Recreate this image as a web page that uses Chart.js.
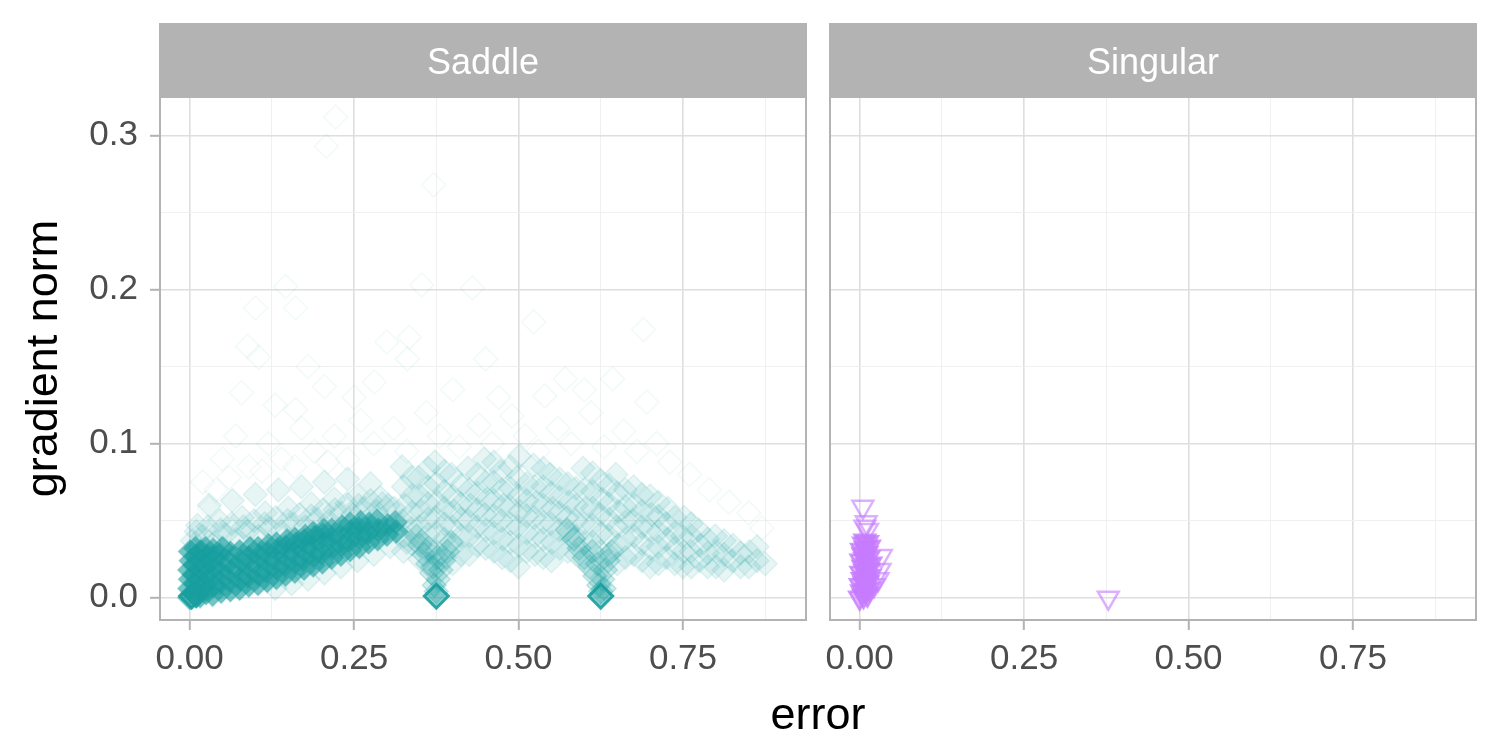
<!DOCTYPE html>
<html>
<head>
<meta charset="utf-8">
<script src="https://cdn.jsdelivr.net/npm/chart.js@4"></script>
<style>
  html, body { margin: 0; padding: 0; background: #fff; }
  #wrap { position: relative; width: 1500px; height: 750px; overflow: hidden; }
  #left { position: absolute; left: 0; top: 0; }
  #right { position: absolute; left: 815px; top: 0; }
  #xtitle {
    position: absolute; left: 618px; width: 400px; top: 691px;
    text-align: center; font: 45px "Liberation Sans", Arial, sans-serif;
    line-height: 45px; color: #000;
  }
</style>
</head>
<body>
<div id="wrap">
  <canvas id="left" width="821" height="750"></canvas>
  <canvas id="right" width="685" height="750"></canvas>
  <div id="xtitle">error</div>
</div>
<script>
// panels and axis settings
const panelNames = ["Saddle", "Singular"];
const xRange = [-0.045, 0.937];
const yRange = [-0.0145, 0.325];
const xTicks = [0, 0.125, 0.25, 0.375, 0.5, 0.625, 0.75, 0.875];
const yTicks = [0, 0.05, 0.1, 0.15, 0.2, 0.25, 0.3];

// Saddle: dense core near the origin (error, gradient norm)
const saddleCore = [
  [0.000,0.000],[0.000,0.006],[0.001,0.012],[0.000,0.018],[0.002,0.024],[0.001,0.030],
  [0.008,0.003],[0.009,0.009],[0.007,0.015],[0.008,0.021],[0.010,0.027],[0.009,0.032],
  [0.016,0.001],[0.017,0.006],[0.015,0.012],[0.018,0.018],[0.016,0.024],[0.017,0.030],
  [0.025,0.003],[0.024,0.009],[0.026,0.015],[0.025,0.021],[0.027,0.027],[0.024,0.032],
  [0.035,0.002],[0.036,0.008],[0.034,0.014],[0.037,0.020],[0.035,0.026],[0.036,0.031],
  [0.048,0.004],[0.047,0.010],[0.049,0.016],[0.048,0.022],[0.046,0.028],[0.050,0.032],
  [0.062,0.005],[0.061,0.011],[0.063,0.017],[0.060,0.023],[0.062,0.029],
  [0.076,0.006],[0.077,0.012],[0.075,0.018],[0.078,0.024],[0.076,0.030],
  [0.090,0.008],[0.089,0.014],[0.091,0.020],[0.090,0.026],[0.092,0.032],
  [0.104,0.009],[0.105,0.015],[0.103,0.021],[0.106,0.027],[0.104,0.032],
  [0.118,0.011],[0.117,0.017],[0.119,0.023],[0.118,0.029],[0.120,0.034],
  [0.132,0.013],[0.133,0.019],[0.131,0.025],[0.134,0.031],[0.132,0.035],
  [0.146,0.015],[0.145,0.021],[0.147,0.027],[0.146,0.033],[0.148,0.037],
  [0.160,0.017],[0.161,0.023],[0.159,0.029],[0.162,0.035],[0.160,0.038],
  [0.174,0.019],[0.173,0.025],[0.175,0.031],[0.174,0.037],[0.176,0.040],
  [0.188,0.021],[0.189,0.027],[0.187,0.033],[0.190,0.039],[0.188,0.042],
  [0.202,0.023],[0.201,0.029],[0.203,0.035],[0.202,0.041],[0.204,0.044],
  [0.216,0.026],[0.217,0.032],[0.215,0.038],[0.216,0.044],
  [0.230,0.028],[0.231,0.034],[0.229,0.040],[0.232,0.046],
  [0.244,0.031],[0.243,0.037],[0.245,0.043],[0.244,0.048],
  [0.258,0.033],[0.259,0.039],[0.257,0.045],[0.260,0.049],
  [0.272,0.036],[0.271,0.042],[0.273,0.048],
  [0.286,0.038],[0.287,0.044],[0.285,0.050],
  [0.300,0.041],[0.301,0.047],
  [0.314,0.043],[0.313,0.049]
];

// Saddle: medium density cloud
const saddleMid = [
  [0.004,0.037],[0.020,0.040],[0.038,0.036],[0.055,0.041],[0.072,0.038],[0.088,0.043],
  [0.105,0.040],[0.122,0.045],[0.140,0.043],[0.158,0.048],[0.176,0.046],[0.194,0.051],
  [0.212,0.050],[0.230,0.055],[0.248,0.054],[0.266,0.058],[0.284,0.056],[0.302,0.060],
  [0.010,0.043],[0.028,0.046],[0.047,0.044],[0.064,0.048],[0.082,0.046],[0.098,0.050],
  [0.114,0.048],[0.131,0.052],[0.149,0.050],[0.167,0.054],[0.185,0.053],[0.203,0.057],
  [0.221,0.057],[0.239,0.061],[0.257,0.060],[0.275,0.063],[0.293,0.061],[0.311,0.058],
  [0.012,0.047],[0.045,0.050],[0.080,0.052],[0.115,0.055],[0.150,0.058],[0.185,0.061],
  [0.220,0.064],[0.255,0.066],[0.290,0.065],
  [0.030,0.060],[0.065,0.063],[0.100,0.067],[0.135,0.070],[0.170,0.072],[0.205,0.075],
  [0.240,0.077],[0.275,0.074],
  [0.130,0.006],[0.155,0.009],[0.180,0.012],[0.205,0.016],[0.230,0.020],[0.255,0.024],
  [0.280,0.028],[0.305,0.033],[0.330,0.036],
  [0.325,0.030],[0.326,0.040],[0.324,0.050],[0.327,0.060],[0.325,0.072],[0.323,0.085],
  [0.350,0.025],[0.351,0.036],[0.349,0.046],[0.352,0.056],[0.350,0.066],[0.348,0.078],
  [0.375,0.030],[0.376,0.042],[0.374,0.052],[0.377,0.062],[0.375,0.074],[0.373,0.088],
  [0.400,0.022],[0.401,0.034],[0.399,0.046],[0.402,0.056],[0.400,0.066],[0.398,0.080],
  [0.425,0.028],[0.426,0.040],[0.424,0.050],[0.427,0.060],[0.425,0.070],[0.423,0.084],
  [0.450,0.032],[0.451,0.044],[0.449,0.054],[0.452,0.064],[0.450,0.075],[0.448,0.090],
  [0.475,0.026],[0.476,0.038],[0.474,0.050],[0.477,0.060],[0.475,0.070],[0.473,0.082],
  [0.500,0.020],[0.501,0.034],[0.499,0.046],[0.502,0.056],[0.500,0.066],[0.498,0.078],[0.501,0.092],
  [0.525,0.028],[0.526,0.040],[0.524,0.052],[0.527,0.062],[0.525,0.072],[0.523,0.086],
  [0.550,0.024],[0.551,0.036],[0.549,0.048],[0.552,0.058],[0.550,0.068],[0.548,0.080],
  [0.575,0.030],[0.576,0.042],[0.574,0.052],[0.577,0.062],[0.575,0.074],
  [0.600,0.024],[0.601,0.036],[0.599,0.048],[0.602,0.058],[0.600,0.070],[0.598,0.084],
  [0.625,0.030],[0.626,0.042],[0.624,0.054],[0.627,0.064],[0.625,0.076],
  [0.650,0.022],[0.651,0.034],[0.649,0.046],[0.652,0.056],[0.650,0.068],[0.648,0.080],
  [0.675,0.028],[0.676,0.040],[0.674,0.050],[0.677,0.060],[0.675,0.072],
  [0.700,0.020],[0.701,0.032],[0.699,0.044],[0.702,0.054],[0.700,0.066],
  [0.725,0.026],[0.726,0.038],[0.724,0.048],[0.727,0.058],
  [0.750,0.020],[0.751,0.030],[0.749,0.040],[0.752,0.052],
  [0.775,0.024],[0.776,0.034],[0.774,0.044],
  [0.800,0.020],[0.801,0.030],[0.799,0.040],
  [0.825,0.024],[0.826,0.034],
  [0.850,0.020],[0.851,0.030],
  [0.875,0.022],
  [0.3375,0.035],[0.3375,0.045],[0.3375,0.055],[0.3375,0.066],[0.3375,0.078],
  [0.3625,0.030],[0.3625,0.041],[0.3625,0.051],[0.3625,0.061],[0.3625,0.072],[0.3625,0.084],
  [0.3875,0.026],[0.3875,0.038],[0.3875,0.048],[0.3875,0.058],[0.3875,0.069],[0.3875,0.082],
  [0.4125,0.028],[0.4125,0.040],[0.4125,0.051],[0.4125,0.061],[0.4125,0.073],
  [0.4375,0.034],[0.4375,0.046],[0.4375,0.057],[0.4375,0.068],[0.4375,0.080],
  [0.4625,0.030],[0.4625,0.042],[0.4625,0.053],[0.4625,0.063],[0.4625,0.075],[0.4625,0.088],
  [0.4875,0.024],[0.4875,0.036],[0.4875,0.048],[0.4875,0.059],[0.4875,0.071],[0.4875,0.085],
  [0.5125,0.030],[0.5125,0.042],[0.5125,0.053],[0.5125,0.063],[0.5125,0.074],
  [0.5375,0.026],[0.5375,0.038],[0.5375,0.049],[0.5375,0.060],[0.5375,0.072],[0.5375,0.084],
  [0.5625,0.032],[0.5625,0.044],[0.5625,0.055],[0.5625,0.065],[0.5625,0.077],
  [0.5875,0.028],[0.5875,0.040],[0.5875,0.050],[0.5875,0.060],[0.5875,0.071],
  [0.6125,0.036],[0.6125,0.047],[0.6125,0.058],[0.6125,0.069],[0.6125,0.081],
  [0.6375,0.028],[0.6375,0.040],[0.6375,0.051],[0.6375,0.061],[0.6375,0.073],
  [0.6625,0.026],[0.6625,0.038],[0.6625,0.049],[0.6625,0.059],[0.6625,0.070],
  [0.6875,0.024],[0.6875,0.035],[0.6875,0.046],[0.6875,0.056],[0.6875,0.067],
  [0.7125,0.022],[0.7125,0.033],[0.7125,0.043],[0.7125,0.053],[0.7125,0.062],
  [0.7375,0.022],[0.7375,0.032],[0.7375,0.042],[0.7375,0.052],
  [0.7625,0.020],[0.7625,0.030],[0.7625,0.040],[0.7625,0.048],
  [0.7875,0.020],[0.7875,0.029],[0.7875,0.038],
  [0.8125,0.018],[0.8125,0.028],[0.8125,0.037],
  [0.8375,0.020],[0.8375,0.029],
  [0.8625,0.024],[0.8625,0.033]
];

// Saddle: points running down into the two other minima
const saddleFunnels = [
  [0.375,0.004],[0.372,0.008],[0.378,0.012],[0.368,0.016],[0.382,0.018],[0.362,0.022],
  [0.386,0.024],[0.356,0.028],[0.392,0.030],[0.350,0.034],[0.345,0.040],[0.398,0.036],
  [0.370,0.020],[0.376,0.026],[0.364,0.032],
  [0.625,0.004],[0.622,0.008],[0.628,0.012],[0.616,0.014],[0.632,0.018],[0.608,0.020],
  [0.636,0.024],[0.600,0.026],[0.592,0.032],[0.584,0.038],[0.574,0.044],
  [0.642,0.030],[0.620,0.022],[0.612,0.030],[0.630,0.006]
];

// Saddle: faint scattered points
const saddleHalo = [
  [0.222,0.312],[0.208,0.293],[0.371,0.268],[0.100,0.188],[0.161,0.188],[0.146,0.202],
  [0.353,0.203],[0.430,0.201],[0.523,0.179],[0.690,0.174],[0.088,0.163],[0.105,0.156],
  [0.300,0.166],[0.334,0.169],[0.331,0.155],[0.205,0.137],[0.161,0.122],[0.079,0.133],
  [0.281,0.140],[0.571,0.142],[0.643,0.142],[0.695,0.127],[0.540,0.131],
  [0.050,0.090],[0.070,0.105],[0.090,0.085],[0.120,0.100],[0.140,0.090],[0.170,0.110],
  [0.190,0.095],[0.220,0.105],[0.240,0.090],[0.260,0.115],[0.280,0.100],[0.310,0.110],
  [0.330,0.095],[0.360,0.120],[0.380,0.105],[0.410,0.098],[0.440,0.112],[0.460,0.100],
  [0.490,0.118],[0.510,0.105],[0.530,0.095],[0.560,0.110],[0.580,0.100],[0.610,0.120],
  [0.630,0.098],[0.660,0.108],[0.680,0.095],[0.710,0.100],[0.730,0.088],[0.760,0.080],
  [0.790,0.070],[0.820,0.062],[0.850,0.055],[0.870,0.045],[0.020,0.075],[0.040,0.070],
  [0.030,0.058],[0.060,0.078],[0.110,0.082],[0.160,0.085],[0.210,0.088],[0.130,0.125],
  [0.250,0.130],[0.400,0.135],[0.470,0.130],[0.600,0.135],[0.180,0.150],[0.450,0.155]
];

// Saddle: the three minima
const saddleMinima = [[0.003,0.001],[0.010,0.002],[0.375,0.001],[0.625,0.001]];

// Singular: dense column and scattered points
const singularCore = [
  [0.000,0.000],[0.006,0.001],[0.012,0.002],[0.003,0.004],[0.009,0.005],[0.015,0.006],
  [0.001,0.008],[0.007,0.009],[0.013,0.010],[0.004,0.012],[0.010,0.013],[0.016,0.014],
  [0.002,0.016],[0.008,0.017],[0.014,0.018],[0.005,0.020],[0.011,0.021],[0.017,0.022],
  [0.002,0.024],[0.008,0.025],[0.014,0.026],[0.005,0.028],[0.011,0.029],[0.003,0.031],
  [0.009,0.032],[0.015,0.033],[0.006,0.035],[0.012,0.036],[0.008,0.037]
];
const singularSparse = [
  [0.033,0.027],[0.031,0.018],[0.028,0.012],[0.022,0.008],[0.008,0.046],[0.012,0.044],
  [0.010,0.049],[0.005,0.059],[0.378,0.000]
];

const teal = "24, 158, 158";
const purple = "199, 124, 255";
Chart.defaults.font.family = "'Liberation Sans', Arial, sans-serif";

const toXY = (arr) => arr.map(([x, y]) => ({ x, y }));
const isMajor = (v, per) => Math.abs(v * per - Math.round(v * per)) < 1e-6;

// strip on top + grey border round the panel
const panelFrame = {
  id: "panelFrame",
  afterDatasetsDraw(chart, args, opts) {
    const { ctx, chartArea: a } = chart;
    ctx.save();
    ctx.strokeStyle = "#B3B3B3";
    ctx.lineWidth = 2;
    ctx.strokeRect(a.left, a.top, a.right - a.left, a.bottom - a.top);
    ctx.fillStyle = "#B3B3B3";
    ctx.fillRect(a.left - 1, 23, a.right - a.left + 2, a.top - 23 - 1);
    ctx.fillStyle = "#FFFFFF";
    ctx.font = "36px 'Liberation Sans', Arial, sans-serif";
    ctx.textAlign = "center";
    ctx.textBaseline = "alphabetic";
    ctx.fillText(opts.label, (a.left + a.right) / 2, 74);
    ctx.restore();
  }
};

function gridStyle(per) {
  return {
    color: (c) => (isMajor(c.tick.value, per) ? "#DEDEDE" : "#EEEEEE"),
    lineWidth: (c) => (isMajor(c.tick.value, per) ? 1.6 : 0.9),
    tickLength: 10,
    tickWidth: 2,
    tickColor: (c) => (isMajor(c.tick.value, per) ? "#B3B3B3" : "rgba(0,0,0,0)")
  };
}

function xScale() {
  return {
    type: "linear",
    min: xRange[0],
    max: xRange[1],
    bounds: "data",
    afterBuildTicks: (s) => { s.ticks = xTicks.map((v) => ({ value: v })); },
    ticks: {
      autoSkip: false,
      maxRotation: 0,
      color: "#4D4D4D",
      font: { size: 35 },
      padding: 8,
      callback: (v) => (isMajor(v, 4) ? Number(v).toFixed(2) : "")
    },
    grid: gridStyle(4),
    border: { display: false },
    afterFit: (s) => { s.height = 130; }
  };
}

function yScale(withLabels) {
  const s = {
    type: "linear",
    min: yRange[0],
    max: yRange[1],
    bounds: "data",
    afterBuildTicks: (sc) => { sc.ticks = yTicks.map((v) => ({ value: v })); },
    ticks: {
      autoSkip: false,
      display: withLabels,
      color: "#4D4D4D",
      font: { size: 35 },
      padding: 12,
      callback: (v) => (isMajor(v, 10) ? Number(v).toFixed(1) : "")
    },
    grid: Object.assign(gridStyle(10), { drawTicks: withLabels }),
    border: { display: false },
    afterFit: (sc) => { sc.width = withLabels ? 160 : 15; }
  };
  if (withLabels) {
    s.title = {
      display: true,
      text: "gradient norm",
      color: "#000",
      font: { size: 45 },
      padding: { top: 18, bottom: 0 }
    };
  }
  return s;
}

function diamonds(data, border, fill, width) {
  return {
    data: toXY(data),
    pointStyle: "rectRot",
    pointRadius: 12,
    borderWidth: width,
    borderColor: `rgba(${teal}, ${border})`,
    backgroundColor: `rgba(${teal}, ${fill})`,
    clip: 0
  };
}

function triangles(data, border, fill) {
  return {
    data: toXY(data),
    pointStyle: "triangle",
    rotation: 180,
    pointRadius: 12,
    borderWidth: 2.5,
    borderColor: `rgba(${purple}, ${border})`,
    backgroundColor: `rgba(${purple}, ${fill})`,
    clip: 0
  };
}

function baseOptions(label, withLabels, padRight) {
  return {
    responsive: false,
    animation: false,
    devicePixelRatio: 1,
    layout: { padding: { top: 97, right: padRight, left: 0, bottom: 0 } },
    plugins: {
      legend: { display: false },
      tooltip: { enabled: false },
      panelFrame: { label: label }
    },
    scales: { x: xScale(), y: yScale(withLabels) }
  };
}

new Chart(document.getElementById("left"), {
  type: "scatter",
  data: {
    datasets: [
      diamonds(saddleMinima, 0.9, 0.45, 3),
      diamonds(saddleCore, 0.22, 0.6, 1.5),
      diamonds(saddleFunnels, 0.22, 0.2, 1.5),
      diamonds(saddleMid, 0.1, 0.1, 1.5),
      diamonds(saddleHalo, 0.06, 0.0, 1.5)
    ]
  },
  options: baseOptions(panelNames[0], true, 9),
  plugins: [panelFrame]
});

new Chart(document.getElementById("right"), {
  type: "scatter",
  data: {
    datasets: [
      triangles(singularCore, 0.8, 0.55),
      triangles(singularSparse, 0.6, 0.0)
    ]
  },
  options: baseOptions(panelNames[1], false, 24),
  plugins: [panelFrame]
});
</script>
</body>
</html>
